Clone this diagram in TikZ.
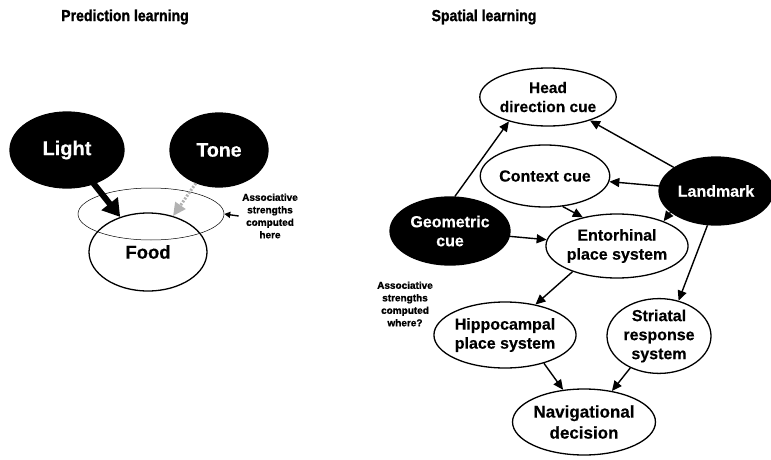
\documentclass[tikz,border=0pt]{standalone}
\usepackage{fontspec}
\setmainfont{Liberation Sans}[BoldFeatures={FakeBold=0.4}]
\newfontfamily\titlefont{Liberation Sans}[FakeStretch=0.88,BoldFeatures={FakeBold=1.4}]
\newfontfamily\notefont{Liberation Sans}[BoldFeatures={FakeBold=1.2}]
\usetikzlibrary{shapes.geometric,arrows.meta}
\begin{document}
\begin{tikzpicture}[x=1pt,y=-1pt,
  ov/.style={ellipse,draw,line width=1.3pt,inner sep=0pt,align=center,
    font=\fontsize{16}{19}\selectfont\bfseries},
  bk/.style={ov,fill=black,text=white},
  arr/.style={line width=1.4pt,-{Triangle[length=10pt,width=9pt]}},
  note/.style={align=center,font=\fontsize{10}{12.5}\notefont\bfseries},
  ttl/.style={font=\fontsize{16}{19}\titlefont\bfseries}]
\useasboundingbox (0,0) rectangle (771,460);
% titles
\node[ttl] (t1) at (125,17) {Prediction learning};
\node[ttl] (t2) at (484,17) {Spatial learning};
% left panel
\node[bk,minimum width=114pt,minimum height=76pt,font=\fontsize{20}{24}\selectfont\bfseries] (light) at (67,150) {Light};
\node[bk,minimum width=98pt,minimum height=74pt,font=\fontsize{19.5}{24}\selectfont\bfseries] (tone) at (219,150) {Tone};
\node[ov,minimum width=118pt,minimum height=78pt,font=\fontsize{18.5}{22}\selectfont\bfseries] (food) at (148,252) {Food};
\node[ellipse,draw,line width=0.5pt,minimum width=146pt,minimum height=52pt,inner sep=0pt] (zone) at (151,214) {};
\draw[line width=6pt,shorten <=-3pt,-{Triangle[length=17pt,width=20pt]}] (light) -- (food);
\draw[line width=3pt,gray!60,dash pattern=on 2pt off 1.5pt,-{Triangle[length=13pt,width=12pt]}] (tone) -- (food);
\node[note] (here) at (270,216) {Associative\\strengths\\computed\\here};
\draw[line width=1.4pt,-{Triangle[length=6pt,width=6pt]}] (here.west) -- (zone.east);
% right panel
\node[ov,minimum width=118pt,minimum height=58pt,font=\fontsize{15.5}{19}\selectfont\bfseries] (head) at (548,97) {Head\\direction cue};
\node[ov,minimum width=120pt,minimum height=62pt] (ctx) at (545,176) {Context cue};
\node[bk,minimum width=114pt,minimum height=68pt] (land) at (716,191) {Landmark};
\node[bk,minimum width=120pt,minimum height=68pt] (geo) at (450,231) {Geometric\\cue};
\node[ov,minimum width=118pt,minimum height=64pt] (ent) at (617,246) {Entorhinal\\place system};
\node[ov,minimum width=110pt,minimum height=66pt] (hip) at (505,335) {Hippocampal\\place system};
\node[ov,minimum width=104pt,minimum height=72pt] (str) at (659,336) {Striatal\\response\\system};
\node[ov,minimum width=112pt,minimum height=66pt,font=\fontsize{17}{21}\selectfont\bfseries] (nav) at (584,422) {Navigational\\decision};
\node[note] (where) at (405,304) {Associative\\strengths\\computed\\where?};
\draw[arr] (geo.82) -- (head.212);
\draw[arr] (land) -- (head);
\draw[arr] (land) -- (ctx);
\draw[arr] (land.205) -- (ent.28);
\draw[arr] (ctx.300) -- (ent.140);
\draw[arr] (geo) -- (ent);
\draw[arr] (land.256) -- (str.61);
\draw[arr] (ent.210) -- (hip.45);
\draw[arr] (hip.324) -- (nav.123);
\draw[arr] (str.228) -- (nav.48);
\end{tikzpicture}
\end{document}
